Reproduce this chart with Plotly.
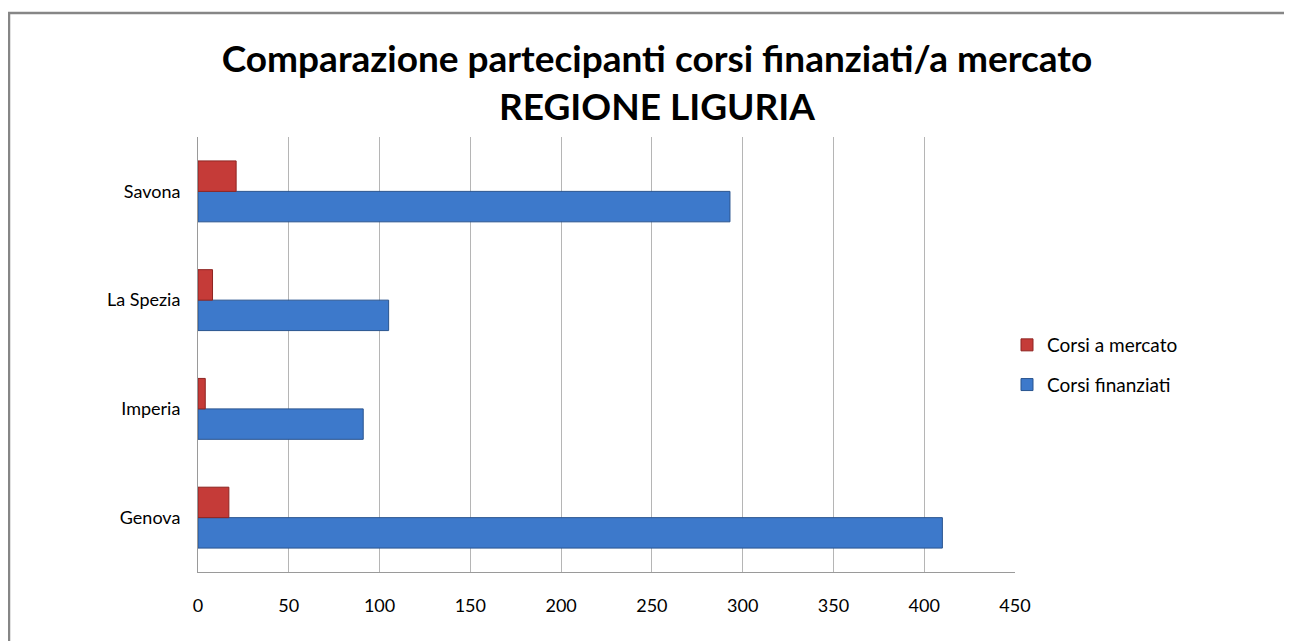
import plotly.graph_objects as go

categories = ["Genova", "Imperia", "La Spezia", "Savona"]
finanziati = [410, 91, 105, 293]
mercato = [17, 4, 8, 21]
x_ticks = [0, 50, 100, 150, 200, 250, 300, 350, 400, 450]

FONT = "Lato"

W, H = 1284, 633
L, T = 190, 129
PLOT_W, PLOT_H = 817, 435

fig = go.Figure()
fig.add_trace(go.Bar(
    y=categories, x=finanziati, orientation="h", name="Corsi finanziati",
    legendrank=2, legendgroup="fin",
    marker=dict(color="#3d79cb", line=dict(color="#29548f", width=1)),
))
fig.add_trace(go.Bar(
    y=categories, x=mercato, orientation="h", name="Corsi a mercato",
    legendrank=1, legendgroup="mer",
    marker=dict(color="#c53b38", line=dict(color="#8e2522", width=1)),
))

fig.update_layout(
    width=W, height=H,
    margin=dict(l=L, r=W - L - PLOT_W, t=T, b=H - T - PLOT_H, autoexpand=False),
    paper_bgcolor="white", plot_bgcolor="white",
    barmode="group", bargap=0.44, bargroupgap=0,
    title=dict(
        text="<b>Comparazione partecipanti corsi finanziati/a mercato<br>REGIONE LIGURIA</b>",
        x=(657 - 8) / W, xanchor="center", xref="container",
        y=1 - 64 / H, yanchor="top", yref="container",
        font=dict(family=FONT, size=37, color="black"),
    ),
    legend=dict(
        x=(1007 - 8 - L) / PLOT_W, xanchor="left",
        y=(564 - 365 + 8) / PLOT_H, yanchor="middle",
        traceorder="grouped", tracegroupgap=12,
        font=dict(family=FONT, size=19, color="black"),
        itemwidth=30,
    ),
    xaxis=dict(
        range=[0, 450], tickvals=x_ticks, showgrid=True, gridcolor="#b5b5b5", gridwidth=1,
        zeroline=False, showline=True, linecolor="#9a9a9a",
        tickfont=dict(family=FONT, size=18, color="black"), ticks="",
        ticklabelstandoff=17,
    ),
    yaxis=dict(
        showgrid=False, showline=True, linecolor="#9a9a9a",
        tickfont=dict(family=FONT, size=18, color="black"), ticks="",
        ticklabelstandoff=13,
    ),
    shapes=[dict(
        type="rect", xref="paper", yref="paper",
        x0=(1 - L) / PLOT_W, x1=1.6, y0=-0.6, y1=(T + PLOT_H - 5) / PLOT_H,
        line=dict(color="#868686", width=2.5), fillcolor="rgba(0,0,0,0)", layer="below",
    )],
    showlegend=True,
)

fig.write_html("out.html")
